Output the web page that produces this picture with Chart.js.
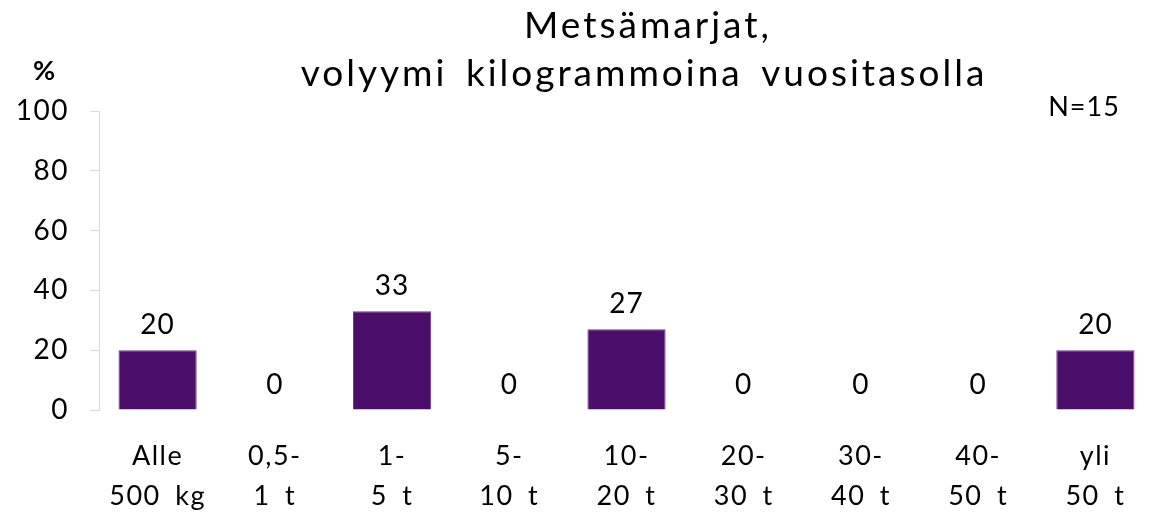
<!DOCTYPE html>
<html lang="fi">
<head>
  <meta charset="UTF-8">
  <title>Metsämarjat</title>
  <script src="https://cdn.jsdelivr.net/npm/chart.js"></script>
  <style>
    html, body {
      margin: 0;
      padding: 0;
      background: #ffffff;
    }
    #wrap {
      width: 1158px;
      height: 515px;
    }
  </style>
</head>
<body>
  <div id="wrap"><canvas id="berryChart"></canvas></div>

  <script>
    // categories (two-line labels) and values in %
    const categories = [
      ['Alle', '500 kg'], ['0,5-', '1 t'], ['1-', '5 t'], ['5-', '10 t'], ['10-', '20 t'],
      ['20-', '30 t'], ['30-', '40 t'], ['40-', '50 t'], ['yli', '50 t']
    ];
    const shares = [20, 0, 33, 0, 27, 0, 0, 0, 20];
    const yTicks = [0, 20, 40, 60, 80, 100];
    const titleLines = ['Metsämarjat,', 'volyymi kilogrammoina vuositasolla'];
    const nText = 'N=15';

    const FONT = 'Lato, "Open Sans", sans-serif';

    // the original font is wider, so open up the spacing a bit
    const spacing = {
      id: 'spacing',
      beforeDraw(chart) {
        chart.ctx.letterSpacing = '1.5px';
        chart.ctx.wordSpacing = '6px';
      }
    };

    // values above bars + title, % and N
    const extras = {
      id: 'extras',
      afterDatasetsDraw(chart) {
        const { ctx } = chart;
        const meta = chart.getDatasetMeta(0);
        ctx.save();
        ctx.fillStyle = '#000';
        ctx.textAlign = 'center';
        ctx.textBaseline = 'middle';
        ctx.letterSpacing = '1px';
        ctx.wordSpacing = '0px';
        ctx.font = '28px ' + FONT;
        meta.data.forEach((bar, i) => {
          ctx.fillText(String(shares[i]), bar.x, bar.y - 25);
        });

        ctx.font = '37px ' + FONT;
        ctx.letterSpacing = '3px';
        ctx.wordSpacing = '6px';
        ctx.fillText(titleLines[0], 648, 26);
        ctx.fillText(titleLines[1], 644, 74);

        ctx.letterSpacing = '0px';
        ctx.wordSpacing = '0px';
        ctx.font = 'bold 27px ' + FONT;
        ctx.fillText('%', 44, 71);

        ctx.font = '27px ' + FONT;
        ctx.letterSpacing = '1px';
        ctx.fillText(nText, 1084, 107);
        ctx.restore();
      }
    };

    const ctx = document.getElementById('berryChart').getContext('2d');
    new Chart(ctx, {
      type: 'bar',
      data: {
        labels: categories,
        datasets: [{
          data: shares,
          backgroundColor: '#4b0e6b',
          borderColor: '#6a3a88',
          borderWidth: 1,
          barPercentage: 0.667,
          categoryPercentage: 1.0
        }]
      },
      options: {
        responsive: true,
        maintainAspectRatio: false,
        animation: false,
        layout: { padding: { top: 111, right: 4, left: 0, bottom: 0 } },
        plugins: {
          legend: { display: false },
          tooltip: { enabled: false },
          title: { display: false }
        },
        scales: {
          x: {
            grid: { display: false },
            border: { display: false },
            ticks: {
              color: '#000',
              font: { family: FONT, size: 27, lineHeight: 1.5 },
              padding: 18,
              maxRotation: 0,
              autoSkip: false
            },
            afterFit(scale) { scale.height = 105; }
          },
          y: {
            min: 0,
            max: 100,
            afterBuildTicks(scale) { scale.ticks = yTicks.map(v => ({ value: v })); },
            grid: {
              display: true,
              drawOnChartArea: false,
              tickLength: 9,
              color: '#d9d9d9'
            },
            border: { display: true, color: '#d9d9d9' },
            ticks: {
              color: '#000',
              font: { family: FONT, size: 28 },
              padding: 21
            },
            afterFit(scale) { scale.width = 99; }
          }
        }
      },
      plugins: [spacing, extras]
    });
  </script>
</body>
</html>
